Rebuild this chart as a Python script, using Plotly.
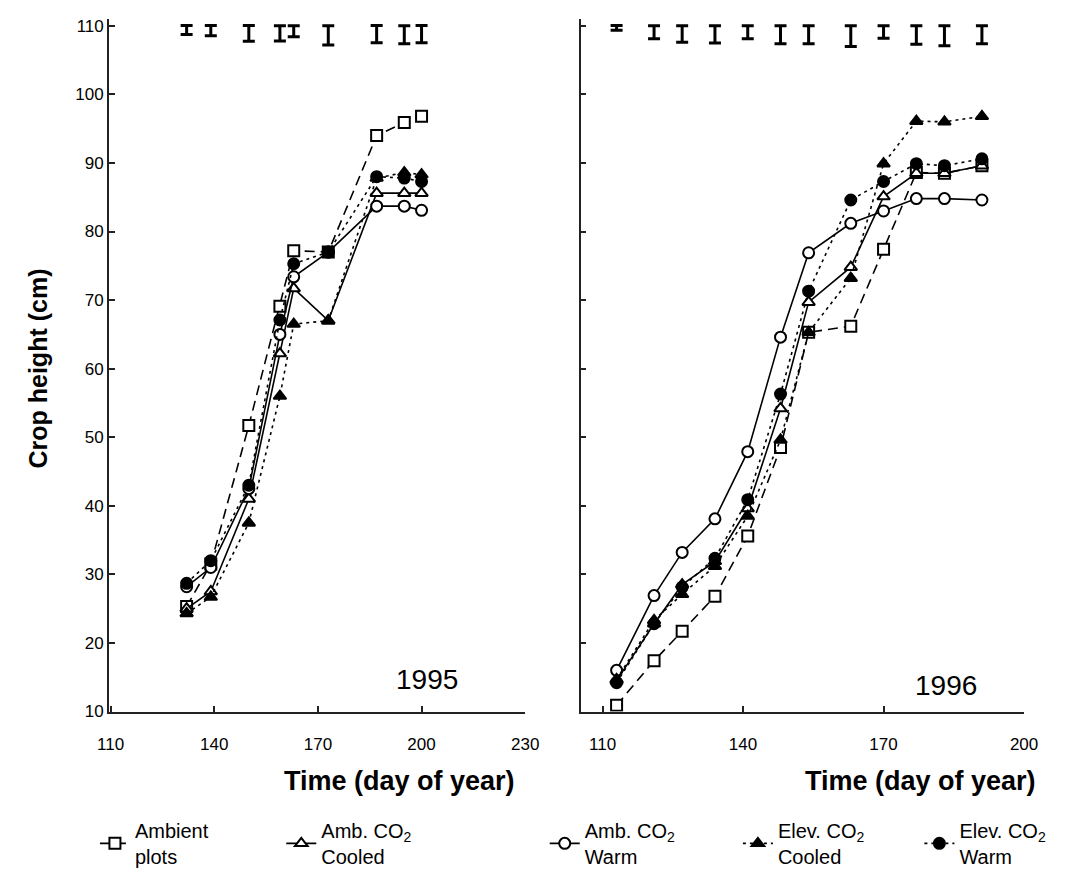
import plotly.graph_objects as go

# ---------------- data ----------------
days95 = [132, 139, 150, 159, 163, 173, 187, 195, 200]
ambient95 = [25.3, 31.5, 51.7, 69.1, 77.2, 77.0, 94.0, 95.9, 96.8]
ambcool95 = [25.0, 27.5, 41.0, 62.2, 71.7, 67.0, 85.6, 85.6, 85.6]
ambwarm95 = [28.2, 31.0, 42.5, 65.0, 73.4, 77.0, 83.7, 83.7, 83.1]
elevcool95 = [24.3, 26.7, 37.5, 56.0, 66.5, 67.0, 87.8, 88.6, 88.3]
elevwarm95 = [28.7, 32.0, 43.0, 67.1, 75.3, 77.0, 88.0, 87.8, 87.3]
errc95 = [109.4, 109.3, 108.9, 108.9, 109.2, 108.6, 108.8, 108.7, 108.8]
errh95 = [0.65, 0.75, 1.15, 1.1, 0.8, 1.4, 1.25, 1.3, 1.25]

days96 = [113, 121, 127, 134, 141, 148, 154, 163, 170, 177, 183, 191]
ambient96 = [10.9, 17.4, 21.7, 26.8, 35.6, 48.5, 65.3, 66.2, 77.4, 88.6, 88.5, 89.6]
ambcool96 = [14.5, 22.8, 28.5, 31.9, 39.6, 54.2, 69.7, 74.8, 85.1, 88.5, 88.5, 89.6]
ambwarm96 = [16.0, 26.9, 33.2, 38.1, 47.9, 64.6, 76.9, 81.2, 83.0, 84.8, 84.8, 84.6]
elevcool96 = [14.7, 23.3, 27.1, 31.2, 38.5, 49.6, 65.3, 73.2, 89.9, 96.1, 96.0, 96.8]
elevwarm96 = [14.2, 22.8, 28.15, 32.35, 40.9, 56.3, 71.3, 84.6, 87.3, 89.9, 89.6, 90.6]
errc96 = [109.7, 109.05, 108.8, 108.75, 109.05, 108.7, 108.7, 108.5, 109.1, 108.65, 108.55, 108.7]
errh96 = [0.35, 0.95, 1.2, 1.25, 0.95, 1.3, 1.3, 1.5, 0.9, 1.35, 1.45, 1.3]

series_names = [
    "Ambient<br>plots",
    "Amb. CO<sub>2</sub><br>Cooled",
    "Amb. CO<sub>2</sub><br>Warm",
    "Elev. CO<sub>2</sub><br>Cooled",
    "Elev. CO<sub>2</sub><br>Warm",
]
x_ticks95 = [110, 140, 170, 200, 230]
x_ticks96 = [110, 140, 170, 200]
y_ticks = [10, 20, 30, 40, 50, 60, 70, 80, 90, 100, 110]

FONT = "Liberation Sans, Arial, Helvetica, sans-serif"

styles = [
    dict(dash="10px,6px", symbol="square", fill="white"),
    dict(dash="solid", symbol="triangle-up", fill="white"),
    dict(dash="solid", symbol="circle", fill="white"),
    dict(dash="3px,4px", symbol="triangle-up", fill="black"),
    dict(dash="3px,4px", symbol="circle", fill="black"),
]

fig = go.Figure()

data95 = [ambient95, ambcool95, ambwarm95, elevcool95, elevwarm95]
data96 = [ambient96, ambcool96, ambwarm96, elevcool96, elevwarm96]

W, H = 1069, 876
# legend positions (pixel x of each legend's left edge)
leg_x = [85, 276, 546, 744, 930]

for i, (name, st) in enumerate(zip(series_names, styles)):
    legname = "legend" if i == 0 else f"legend{i+1}"
    for j, (days, vals, xa, ya) in enumerate([(days95, data95[i], "x", "y"), (days96, data96[i], "x2", "y2")]):
        fig.add_trace(go.Scatter(
            x=days, y=vals, xaxis=xa, yaxis=ya,
            mode="lines+markers", name=name,
            legend=legname, showlegend=(j == 0),
            line=dict(color="black", width=1.6, dash=st["dash"]),
            marker=dict(symbol=st["symbol"], size=11, color=st["fill"],
                        line=dict(color="black", width=2)),
        ))

# error bars at the top
for days, c, h, xa, ya in [(days95, errc95, errh95, "x", "y"), (days96, errc96, errh96, "x2", "y2")]:
    fig.add_trace(go.Scatter(
        x=days, y=c, xaxis=xa, yaxis=ya, mode="markers", showlegend=False,
        marker=dict(size=1, color="rgba(0,0,0,0)"),
        error_y=dict(type="data", array=h, visible=True, color="black", thickness=3, width=6),
        hoverinfo="skip",
    ))

axis_common = dict(
    showline=True, linecolor="#222", linewidth=1.5, ticks="inside", ticklen=6,
    tickcolor="#222", tickwidth=1.5, showgrid=False, zeroline=False,
    tickfont=dict(family=FONT, size=17, color="black"),
)

fig.update_layout(
    width=W, height=H, margin=dict(l=0, r=0, t=0, b=0),
    paper_bgcolor="white", plot_bgcolor="white",
    font=dict(family=FONT, color="black"),
    xaxis=dict(domain=[99.3 / W, 526 / W], range=[109.5, 230], tickvals=x_ticks95,
               anchor="y", ticklabelstandoff=16, **axis_common),
    yaxis=dict(domain=[1 - 722.7 / H, 1 - 17.3 / H], range=[10, 111], tickvals=y_ticks,
               anchor="x", **axis_common),
    xaxis2=dict(domain=[582.7 / W, 1037.3 / W], range=[105.3, 200], tickvals=x_ticks96,
                anchor="y2", ticklabelstandoff=16, **axis_common),
    yaxis2=dict(domain=[1 - 722.7 / H, 1 - 17.3 / H], range=[10, 111], tickvals=y_ticks,
                anchor="x2", showticklabels=False, **axis_common),
)

for i in range(5):
    key = "legend" if i == 0 else f"legend{i+1}"
    fig.update_layout({key: dict(
        x=leg_x[i] / W, y=1 - 857 / H, xanchor="left", yanchor="middle",
        orientation="h", bgcolor="rgba(0,0,0,0)",
        font=dict(family=FONT, size=20, color="black"),
    )})

ann = []
ann.append(dict(text="1995", x=425 / W, y=1 - 690 / H, xref="paper", yref="paper",
                showarrow=False, font=dict(family=FONT, size=28), xanchor="center", yanchor="middle"))
ann.append(dict(text="1996", x=957 / W, y=1 - 696 / H, xref="paper", yref="paper",
                showarrow=False, font=dict(family=FONT, size=28), xanchor="center", yanchor="middle"))
ann.append(dict(text="<b>Time (day of year)</b>", x=397 / W, y=1 - 793 / H, xref="paper", yref="paper",
                showarrow=False, font=dict(family=FONT, size=27), xanchor="center", yanchor="middle"))
ann.append(dict(text="<b>Time (day of year)</b>", x=931 / W, y=1 - 793 / H, xref="paper", yref="paper",
                showarrow=False, font=dict(family=FONT, size=27), xanchor="center", yanchor="middle"))
ann.append(dict(text="<b>Crop height (cm)</b>", x=27 / W, y=1 - 373 / H, xref="paper", yref="paper",
                showarrow=False, textangle=-90, font=dict(family=FONT, size=25),
                xanchor="center", yanchor="middle"))
fig.update_layout(annotations=ann)

fig.write_html("out.html")
